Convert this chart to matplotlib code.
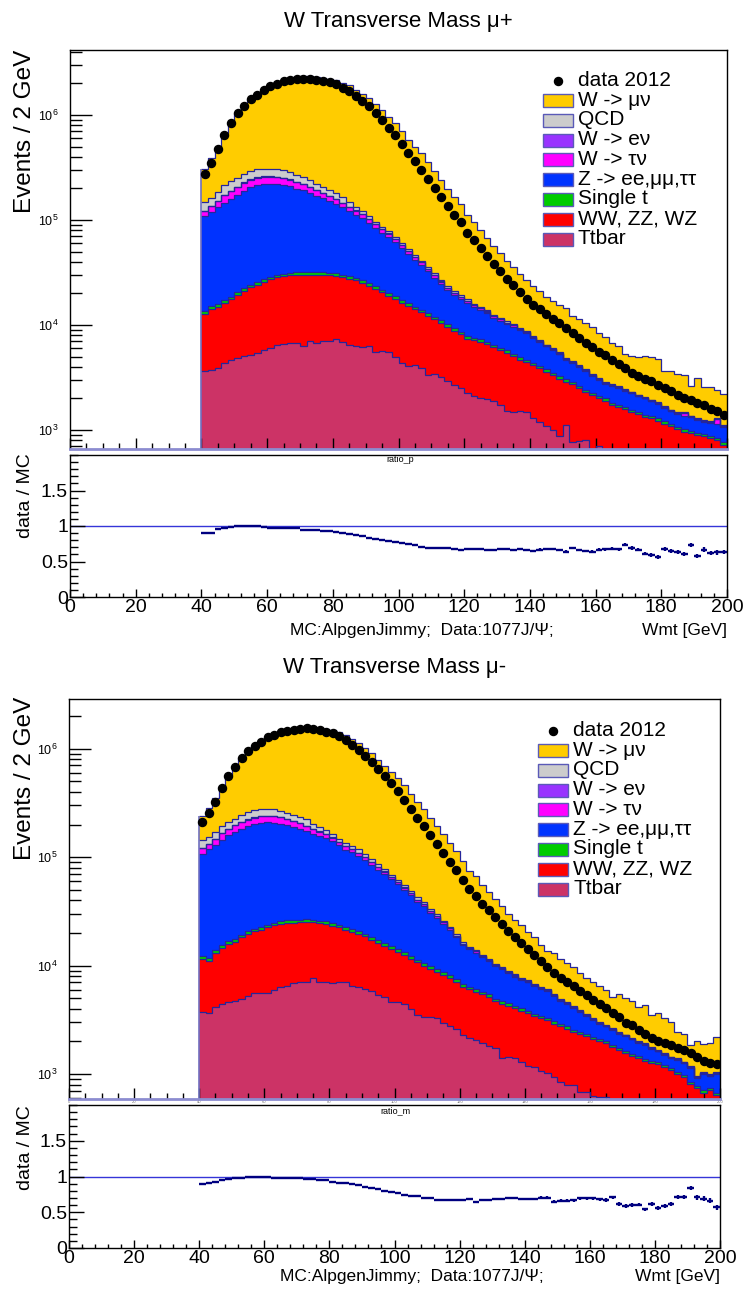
import numpy as np
import matplotlib
matplotlib.use('Agg')
import matplotlib.pyplot as plt
from matplotlib.ticker import FixedLocator, MultipleLocator, LogLocator, NullFormatter, FuncFormatter
from matplotlib.patches import Rectangle
from matplotlib.lines import Line2D

plt.rcParams['font.family'] = ['Liberation Sans', 'DejaVu Sans']
plt.rcParams['mathtext.fontset'] = 'custom'
plt.rcParams['mathtext.rm'] = 'Liberation Sans'

# ---------------- binning (2 GeV bins, 40-200 GeV) ----------------
edges = np.arange(40, 202, 2)
centers = edges[:-1] + 1

# ================= mu+ =================
data_p = [274000, 347000, 479000, 646000, 841000, 1038000, 1225000, 1413000, 1567000, 1738000,
          1875000, 1995000, 2089000, 2153000, 2203000, 2218000, 2218000, 2178000, 2128000, 2046000,
          1959000, 1807000, 1698000, 1514000, 1365000, 1216000, 1047000, 902000, 759000, 646000,
          535000, 437000, 363000, 302000, 248000, 200000, 166000, 136000, 112000, 94800,
          74600, 64600, 53700, 45200, 38000, 32700, 27500, 23800, 20700, 17800,
          15500, 14100, 12600, 11400, 10400, 9290, 8450, 7590, 6780, 6120,
          5570, 5150, 4620, 4220, 3890, 3520, 3290, 3090, 2910, 2700,
          2490, 2330, 2160, 2020, 1930, 1790, 1720, 1600, 1500, 1400]
ratio_p = [0.90, 0.90, 0.96, 0.965, 0.99, 0.995, 1.0, 1.0, 0.995, 0.99,
           0.975, 0.97, 0.97, 0.97, 0.965, 0.95, 0.945, 0.94, 0.935, 0.93,
           0.91, 0.90, 0.885, 0.87, 0.855, 0.835, 0.82, 0.805, 0.79, 0.775,
           0.76, 0.75, 0.735, 0.70, 0.695, 0.69, 0.69, 0.685, 0.675, 0.665,
           0.67, 0.672, 0.67, 0.665, 0.668, 0.67, 0.672, 0.668, 0.672, 0.665,
           0.652, 0.668, 0.68, 0.676, 0.665, 0.64, 0.69, 0.66, 0.648, 0.64,
           0.665, 0.675, 0.68, 0.672, 0.735, 0.69, 0.665, 0.61, 0.59, 0.565,
           0.68, 0.645, 0.63, 0.61, 0.737, 0.573, 0.667, 0.62, 0.63, 0.634]
ratio_err_p = [0.003, 0.003, 0.003, 0.003, 0.003, 0.003, 0.003, 0.003, 0.003, 0.003,
               0.003, 0.003, 0.003, 0.003, 0.003, 0.003, 0.003, 0.003, 0.003, 0.003,
               0.004, 0.004, 0.004, 0.004, 0.004, 0.004, 0.004, 0.004, 0.004, 0.004,
               0.005, 0.005, 0.006, 0.006, 0.007, 0.007, 0.008, 0.008, 0.009, 0.009,
               0.010, 0.011, 0.011, 0.012, 0.012, 0.013, 0.013, 0.014, 0.014, 0.015,
               0.015, 0.016, 0.016, 0.017, 0.017, 0.018, 0.018, 0.019, 0.019, 0.020,
               0.021, 0.021, 0.022, 0.022, 0.023, 0.024, 0.024, 0.025, 0.026, 0.026,
               0.027, 0.028, 0.028, 0.029, 0.030, 0.030, 0.031, 0.032, 0.033, 0.033]
ttbar_p = [3650, 3720, 3925, 4380, 4600, 4900, 5070, 5140, 5450, 5800,
           6000, 6400, 6590, 6690, 6750, 6310, 7100, 6790, 6990, 7000,
           7290, 6940, 6500, 6310, 6220, 6310, 5570, 5600, 5500, 4990,
           4380, 4070, 4160, 3900, 3340, 3410, 3170, 2950, 2700, 2500,
           2230, 2100, 2030, 1960, 1880, 1730, 1500, 1480, 1520, 1490,
           1300, 1180, 1080, 1000, 870, 1116, 775, 790, 803, 650,
           700, 640, 610, 580, 550, 520, 500, 480, 450, 430,
           410, 390, 370, 350, 330, 320, 300, 290, 280, 270]
diboson_p = [9090, 10470, 10870, 11840, 12980, 14420, 16060, 17770, 18820, 19900,
             21230, 22110, 22580, 22960, 23170, 23610, 22820, 23130, 22930, 22650,
             22020, 21570, 21040, 20300, 18900, 17400, 16560, 14820, 13550, 12790,
             11840, 11070, 9970, 9280, 8960, 7910, 7300, 6600, 6110, 5630,
             5100, 5060, 4890, 4650, 4290, 4020, 3930, 3530, 3160, 2930,
             2870, 2710, 2510, 2310, 2220, 1764, 1945, 1720, 1487, 1490,
             1320, 1265, 1130, 1080, 1020, 960, 910, 850, 840, 800,
             740, 690, 650, 616, 603, 580, 571, 551, 524, 454]
singlet_p = [760, 850, 890, 970, 1050, 1160, 1270, 1370, 1460, 1540,
             1630, 1710, 1750, 1780, 1850, 1870, 1900, 1880, 1850, 1780,
             1760, 1710, 1650, 1600, 1510, 1420, 1330, 1230, 1140, 1070,
             970, 910, 850, 790, 740, 680, 630, 570, 530, 490,
             440, 390, 380, 350, 330, 300, 290, 260, 240, 230,
             215, 200, 185, 170, 155, 145, 140, 125, 115, 105,
             100, 95, 85, 80, 78, 72, 70, 66, 62, 60,
             56, 52, 50, 48, 45, 44, 42, 40, 40, 38]
zll_p = [96400, 104900, 116100, 129000, 139900, 152500, 168100, 179900, 188100, 193100,
         191400, 190100, 185400, 178500, 167700, 159600, 149300, 138800, 128500, 120000,
         111800, 101600, 92400, 84000, 78000, 69300, 60600, 54200, 49000, 42800,
         36500, 31300, 26700, 23200, 19300, 16200, 13500, 11300, 9900, 8960,
         8450, 7240, 6660, 5920, 5250, 4910, 4510, 4390, 3990, 3670,
         3115, 2750, 2465, 2270, 2005, 1595, 1510, 1345, 1225, 1025,
         900, 750, 775, 770, 722, 688, 610, 600, 528, 490,
         414, 378, 360, 351, 342, 301, 287, 294, 306, 308]
wtaunu_p = [12000, 15000, 20000, 25000, 30000, 33000, 36000, 38000, 39000, 39000,
            38500, 37500, 35500, 33000, 30500, 28000, 25500, 23000, 20500, 18000,
            16000, 14000, 12000, 10500, 9000, 7800, 6700, 5800, 5000, 4300,
            3600, 3100, 2600, 2200, 1900, 1600, 1350, 1150, 1000, 850,
            700, 580, 500, 520, 380, 320, 280, 300, 220, 190,
            165, 145, 125, 110, 95, 85, 75, 66, 58, 52,
            46, 42, 95, 36, 33, 30, 28, 26, 24, 22,
            20, 19, 18, 70, 16, 15, 14, 14, 120, 13]
wenu_p = [600, 700, 800, 900, 1000, 1100, 1200, 1300, 1400, 1400,
          1400, 1400, 1400, 1300, 1300, 1200, 1200, 1100, 1000, 900,
          850, 800, 700, 650, 600, 550, 500, 450, 400, 350,
          300, 280, 250, 220, 200, 180, 160, 140, 120, 100,
          90, 80, 75, 70, 60, 55, 50, 45, 42, 40,
          36, 33, 30, 28, 26, 24, 22, 20, 19, 18,
          17, 16, 15, 14, 13, 12, 12, 11, 11, 10,
          10, 9, 9, 8, 8, 8, 7, 7, 7, 6]
qcd_p = [27100, 27650, 33600, 41700, 44900, 45800, 47700, 50300, 49900, 47600,
         48100, 49100, 48800, 44200, 39100, 36400, 32100, 26600, 24700, 22500,
         20150, 17500, 13600, 10050, 8000, 6500, 4800, 3900, 3300, 2800,
         2400, 2000, 1700, 1450, 1250, 1050, 900, 780, 680, 600,
         520, 450, 400, 350, 300, 270, 240, 210, 190, 170,
         150, 135, 120, 110, 100, 90, 80, 72, 65, 60,
         55, 50, 46, 42, 40, 37, 35, 33, 31, 30,
         28, 27, 26, 25, 24, 23, 22, 21, 20, 20]

# ================= mu- =================
data_m = [212300, 257000, 323600, 429500, 555900, 682300, 812800, 944100, 1064000, 1161000,
          1271000, 1349000, 1419000, 1466000, 1496000, 1521000, 1542000, 1521000, 1486000, 1439000,
          1387000, 1309000, 1202000, 1091000, 977000, 861000, 758600, 645700, 555900, 478600,
          407400, 338800, 278600, 231700, 192800, 158500, 131800, 109600, 91200, 76700,
          61700, 51050, 43650, 37150, 32360, 28180, 23990, 20890, 18410, 16220,
          14130, 12450, 10960, 9660, 8510, 7670, 7050, 6460, 5890, 5310,
          4860, 4420, 4030, 3670, 3350, 2970, 2820, 2540, 2340, 2160,
          2040, 1950, 1840, 1760, 1680, 1550, 1430, 1320, 1270, 1245]
ratio_m = [0.895, 0.91, 0.93, 0.955, 0.965, 0.98, 0.985, 0.99, 1.0, 0.995,
           0.99, 0.985, 0.98, 0.985, 0.98, 0.978, 0.97, 0.965, 0.955, 0.945,
           0.93, 0.915, 0.905, 0.89, 0.875, 0.855, 0.835, 0.82, 0.80, 0.785,
           0.765, 0.74, 0.728, 0.725, 0.70, 0.695, 0.675, 0.672, 0.672, 0.67,
           0.668, 0.68, 0.648, 0.665, 0.672, 0.68, 0.68, 0.695, 0.695, 0.685,
           0.688, 0.685, 0.705, 0.705, 0.648, 0.662, 0.662, 0.665, 0.695, 0.695,
           0.695, 0.68, 0.672, 0.709, 0.615, 0.587, 0.60, 0.606, 0.54, 0.615,
           0.563, 0.592, 0.61, 0.718, 0.718, 0.836, 0.709, 0.69, 0.66, 0.568]
ratio_err_m = [0.003, 0.003, 0.003, 0.003, 0.003, 0.003, 0.003, 0.003, 0.003, 0.003,
               0.003, 0.003, 0.003, 0.003, 0.003, 0.003, 0.003, 0.003, 0.003, 0.003,
               0.004, 0.004, 0.004, 0.004, 0.004, 0.004, 0.004, 0.004, 0.004, 0.004,
               0.005, 0.005, 0.006, 0.006, 0.007, 0.007, 0.008, 0.008, 0.009, 0.009,
               0.010, 0.011, 0.011, 0.012, 0.012, 0.013, 0.013, 0.014, 0.014, 0.015,
               0.015, 0.016, 0.016, 0.017, 0.017, 0.018, 0.018, 0.019, 0.019, 0.020,
               0.021, 0.021, 0.022, 0.022, 0.023, 0.024, 0.024, 0.025, 0.026, 0.026,
               0.027, 0.028, 0.028, 0.029, 0.030, 0.030, 0.031, 0.032, 0.033, 0.033]
ttbar_m = [3770, 3630, 4130, 4400, 4600, 4700, 4900, 5300, 5600, 5650,
           5650, 6000, 6300, 6500, 6900, 7000, 7130, 7650, 7100, 7000,
           6980, 7050, 7000, 6500, 6300, 6050, 5900, 5400, 5150, 4670,
           4600, 4450, 3960, 3500, 3390, 3390, 3270, 2950, 2780, 2600,
           2300, 2150, 2050, 1950, 1800, 1730, 1400, 1450, 1400, 1300,
           1200, 1170, 1060, 1020, 950, 840, 800, 790, 690, 680,
           630, 620, 610, 560, 540, 520, 500, 480, 460, 440,
           420, 400, 390, 380, 370, 360, 350, 340, 330, 320]
diboson_m = [7690, 7490, 9050, 10220, 11250, 11970, 13300, 14200, 15050, 15880,
             16840, 17550, 17970, 18220, 18050, 18120, 18340, 17470, 17450, 17210,
             16460, 15440, 14380, 13920, 13420, 12570, 11480, 10820, 10160, 9620,
             8890, 8140, 7520, 7220, 6610, 5940, 5540, 5270, 4890, 4480,
             4080, 3950, 3700, 3480, 3390, 3000, 3070, 2820, 2670, 2550,
             2430, 2280, 2210, 2110, 1970, 1950, 1830, 1660, 1650, 1560,
             1480, 1400, 1320, 1200, 1120, 1030, 980, 930, 860, 830,
             810, 760, 710, 620, 563, 453, 391, 336, 386, 326]
singlet_m = [690, 670, 790, 880, 950, 1000, 1090, 1170, 1240, 1290,
             1350, 1410, 1460, 1480, 1500, 1510, 1530, 1510, 1470, 1450,
             1410, 1350, 1280, 1230, 1180, 1120, 1040, 970, 920, 860,
             810, 760, 690, 640, 600, 560, 530, 490, 460, 425,
             380, 300, 280, 260, 250, 230, 220, 210, 200, 190,
             180, 170, 160, 150, 140, 135, 125, 115, 110, 105,
             100, 95, 90, 82, 78, 72, 68, 65, 60, 58,
             56, 52, 50, 46, 43, 38, 35, 32, 34, 30]
zll_m = [95050, 106500, 116300, 129000, 141700, 154100, 163500, 172100, 178500, 183700,
         186100, 183000, 178500, 171500, 164000, 156200, 146800, 137500, 130700, 125000,
         116400, 105000, 94800, 89300, 81400, 73600, 66700, 59500, 53800, 47900,
         41900, 36800, 32500, 27500, 24900, 21000, 18200, 15560, 13250, 10700,
         8730, 7730, 7150, 6200, 5520, 4930, 4540, 4130, 3670, 3370,
         3190, 2840, 2670, 2540, 2190, 1805, 1715, 1505, 1310, 1125,
         950, 805, 730, 728, 602, 618, 542, 475, 480, 392,
         334, 288, 250, 304, 284, 299, 150, 292, 205, 324]
wtaunu_m = [14000, 14500, 17000, 21000, 24000, 25000, 27000, 29000, 31000, 31000,
            30500, 30000, 28000, 26000, 24000, 22000, 20500, 17500, 15000, 12500,
            10500, 9000, 8200, 7600, 7200, 6000, 5000, 4200, 3500, 2900,
            2500, 2200, 1900, 1650, 1400, 1200, 1000, 850, 700, 580,
            420, 380, 330, 290, 260, 230, 200, 180, 160, 145,
            130, 115, 105, 95, 85, 78, 70, 64, 58, 52,
            48, 44, 40, 37, 34, 31, 29, 27, 25, 23,
            21, 20, 19, 18, 17, 16, 15, 14, 14, 13]
wenu_m = [600, 650, 750, 850, 950, 1000, 1100, 1150, 1200, 1200,
          1200, 1200, 1150, 1100, 1050, 1000, 950, 880, 800, 720,
          650, 600, 550, 500, 450, 400, 360, 320, 280, 250,
          220, 200, 180, 160, 140, 120, 105, 95, 85, 75,
          65, 58, 52, 47, 42, 38, 34, 31, 28, 26,
          24, 22, 20, 18, 17, 16, 15, 14, 13, 12,
          11, 10, 10, 9, 9, 8, 8, 7, 7, 7,
          6, 6, 6, 5, 5, 5, 5, 5, 4, 4]
qcd_m = [21000, 20500, 23000, 27500, 29000, 29000, 33000, 35500, 41000, 41500,
         38500, 41000, 34500, 31000, 29000, 27500, 27500, 21000, 17500, 13500,
         9600, 9300, 9500, 9000, 8500, 7300, 6000, 4800, 3800, 3000,
         2800, 2500, 2200, 1900, 1500, 1200, 1000, 850, 700, 580,
         470, 420, 360, 320, 280, 250, 220, 200, 180, 160,
         145, 130, 118, 106, 96, 88, 80, 72, 65, 60,
         55, 50, 46, 42, 40, 37, 35, 33, 31, 30,
         28, 27, 26, 25, 24, 23, 22, 21, 20, 20]

legend_labels = ['W -> \u03bc\u03bd', 'QCD', 'W -> e\u03bd', 'W -> \u03c4\u03bd',
                 'Z -> ee,\u03bc\u03bc,\u03c4\u03c4', 'Single t', 'WW, ZZ, WZ', 'Ttbar']
col_wmunu, col_qcd, col_wenu, col_wtau = '#ffcc00', '#cccccc', '#9933ff', '#ff00ff'
col_z, col_st, col_vv, col_tt = '#0033ff', '#00cc00', '#ff0000', '#cc3366'
legend_colors = [col_wmunu, col_qcd, col_wenu, col_wtau, col_z, col_st, col_vv, col_tt]
EDGE = '#26269a'

W, H = 744, 1289
fig = plt.figure(figsize=(W / 100, H / 100), dpi=100)


def add_ax(l, r, t, b):
    return fig.add_axes([l / W, 1 - b / H, (r - l) / W, (b - t) / H])


def fy(py):
    return 1 - py / H


def draw_main(ax, ttbar, dib, st, zll, wtau, wenu, qcd, data, ratio, ylim):
    data = np.array(data, float)
    mc_total = data / np.array(ratio, float)
    others = [np.array(v, float) for v in (ttbar, dib, st, zll, wtau, wenu, qcd)]
    wmunu = mc_total - sum(others)
    layers = others + [wmunu]
    cols = [col_tt, col_vv, col_st, col_z, col_wtau, col_wenu, col_qcd, col_wmunu]
    cum = np.full(len(centers), 1.0)
    tops = []
    for vals, c in zip(layers, cols):
        base = cum.copy()
        cum = cum + vals
        ax.stairs(cum, edges, baseline=base, fill=True, color=c, lw=0, zorder=1)
        tops.append(cum.copy())
    for t in tops:
        ax.stairs(t, edges, baseline=None, color=EDGE, lw=0.9, zorder=2)
    ax.vlines(edges[0], ylim[0], tops[-1][0], color='#7070c0', lw=1.2, zorder=2)
    ax.errorbar(centers, data, xerr=1, fmt='o', color='k', ms=5.8, elinewidth=0.8,
                capsize=0, zorder=4)
    ax.set_yscale('log')
    ax.set_xlim(0, 200)
    ax.set_ylim(*ylim)
    ax.yaxis.set_major_locator(FixedLocator([1e3, 1e4, 1e5, 1e6]))
    ax.yaxis.set_minor_locator(LogLocator(base=10.0, subs=np.arange(2, 10), numticks=30))
    ax.yaxis.set_major_formatter(FuncFormatter(lambda v, p: r'$10^{%d}$' % round(np.log10(v))))
    ax.yaxis.set_minor_formatter(NullFormatter())
    ax.xaxis.set_major_locator(MultipleLocator(20))
    ax.xaxis.set_minor_locator(MultipleLocator(5))
    ax.tick_params(axis='y', which='major', direction='in', length=16, width=1,
                   labelsize=9, pad=8)
    ax.tick_params(axis='y', which='minor', direction='in', length=8.5, width=1)
    ax.tick_params(axis='x', which='major', direction='in', length=8, width=1,
                   labelbottom=False)
    ax.tick_params(axis='x', which='minor', direction='in', length=4, width=1)
    for s in ax.spines.values():
        s.set_linewidth(1)
    ax.spines['bottom'].set_color('#8c8cd0')
    ax.spines['bottom'].set_linewidth(2)


def draw_ratio(ax, ratio, err):
    ax.axhline(1.0, color='#3535d8', lw=1, zorder=1)
    ax.errorbar(centers, ratio, xerr=1, yerr=err, fmt='none', ecolor='#000080',
                elinewidth=1.7, capsize=0, zorder=3)
    ax.set_xlim(0, 200)
    ax.set_ylim(0, 2)
    ax.yaxis.set_major_locator(FixedLocator([0, 0.5, 1, 1.5]))
    ax.yaxis.set_major_formatter(FuncFormatter(lambda v, p: {0: '0', 0.5: '0.5', 1: '1', 1.5: '1.5'}.get(v, '')))
    ax.yaxis.set_minor_locator(MultipleLocator(0.1))
    ax.xaxis.set_major_locator(MultipleLocator(20))
    ax.xaxis.set_minor_locator(MultipleLocator(4))
    ax.tick_params(axis='y', which='major', direction='in', length=11, width=1,
                   labelsize=14, pad=1.5)
    ax.tick_params(axis='y', which='minor', direction='in', length=6, width=1)
    ax.tick_params(axis='x', which='major', direction='in', length=6, width=1,
                   labelsize=14, pad=1.5)
    ax.tick_params(axis='x', which='minor', direction='in', length=3, width=1)
    for s in ax.spines.values():
        s.set_linewidth(1)


def draw_legend(x_sw, y0):
    pitch = 19.8
    fs = 15
    fig.add_artist(Line2D([(x_sw + 15) / W], [fy(y0)], marker='o', color='k', ms=5.8,
                          ls='none', transform=fig.transFigure))
    fig.text((x_sw + 35) / W, fy(y0 - 0.5), 'data 2012', fontsize=fs, ha='left', va='center')
    for i, (lab, c) in enumerate(zip(legend_labels, legend_colors)):
        yc = y0 + pitch * (i + 1)
        fig.add_artist(Rectangle((x_sw / W, fy(yc + 6.5)), 30 / W, 13 / H,
                                 facecolor=c, edgecolor='#5a5ab8', lw=1,
                                 transform=fig.transFigure))
        fig.text((x_sw + 35) / W, fy(yc - 0.5), lab, fontsize=fs, ha='left', va='center')


# ---------------- mu+ panel ----------------
ax1 = add_ax(70, 727, 50, 449)
draw_main(ax1, ttbar_p, diboson_p, singlet_p, zll_p, wtaunu_p, wenu_p, qcd_p,
          data_p, ratio_p, (659, 4.16e6))
r1 = add_ax(70, 727, 455, 597)
draw_ratio(r1, ratio_p, ratio_err_p)
draw_legend(543, 80.7)

fig.text(398 / W, fy(22), 'W Transverse Mass \u03bc+', fontsize=16, ha='center', va='center')
fig.text(25 / W, fy(50), 'Events / 2 GeV', fontsize=17.5, rotation=90, ha='center', va='top')
fig.text(25 / W, fy(453), 'data / MC', fontsize=14, rotation=90, ha='center', va='top')
fig.text(400 / W, fy(460), 'ratio_p', fontsize=6.5, ha='center', va='center')
fig.text(290 / W, fy(631), 'MC:AlpgenJimmy;  Data:1077J/\u03a8;', fontsize=12.5,
         ha='left', va='center')
fig.text(727 / W, fy(631), 'Wmt [GeV]', fontsize=12.5, ha='right', va='center')

# ---------------- mu- panel ----------------
ax2 = add_ax(69, 720, 699, 1099)
draw_main(ax2, ttbar_m, diboson_m, singlet_m, zll_m, wtaunu_m, wenu_m, qcd_m,
          data_m, ratio_m, (590, 2.87e6))
ax2.tick_params(axis='x', which='major', labelbottom=True, labelsize=3,
                labelcolor='#777777', pad=1)
r2 = add_ax(69, 720, 1105, 1248)
draw_ratio(r2, ratio_m, ratio_err_m)
draw_legend(538, 730.7)

fig.text(395 / W, fy(667), 'W Transverse Mass \u03bc-', fontsize=16, ha='center', va='center')
fig.text(25 / W, fy(697), 'Events / 2 GeV', fontsize=17.5, rotation=90, ha='center', va='top')
fig.text(25 / W, fy(1105), 'data / MC', fontsize=14, rotation=90, ha='center', va='top')
fig.text(395 / W, fy(1111), 'ratio_m', fontsize=6.5, ha='center', va='center')
fig.text(280 / W, fy(1277), 'MC:AlpgenJimmy;  Data:1077J/\u03a8;', fontsize=12.5,
         ha='left', va='center')
fig.text(720 / W, fy(1277), 'Wmt [GeV]', fontsize=12.5, ha='right', va='center')

fig.savefig('out.png', dpi=100)
